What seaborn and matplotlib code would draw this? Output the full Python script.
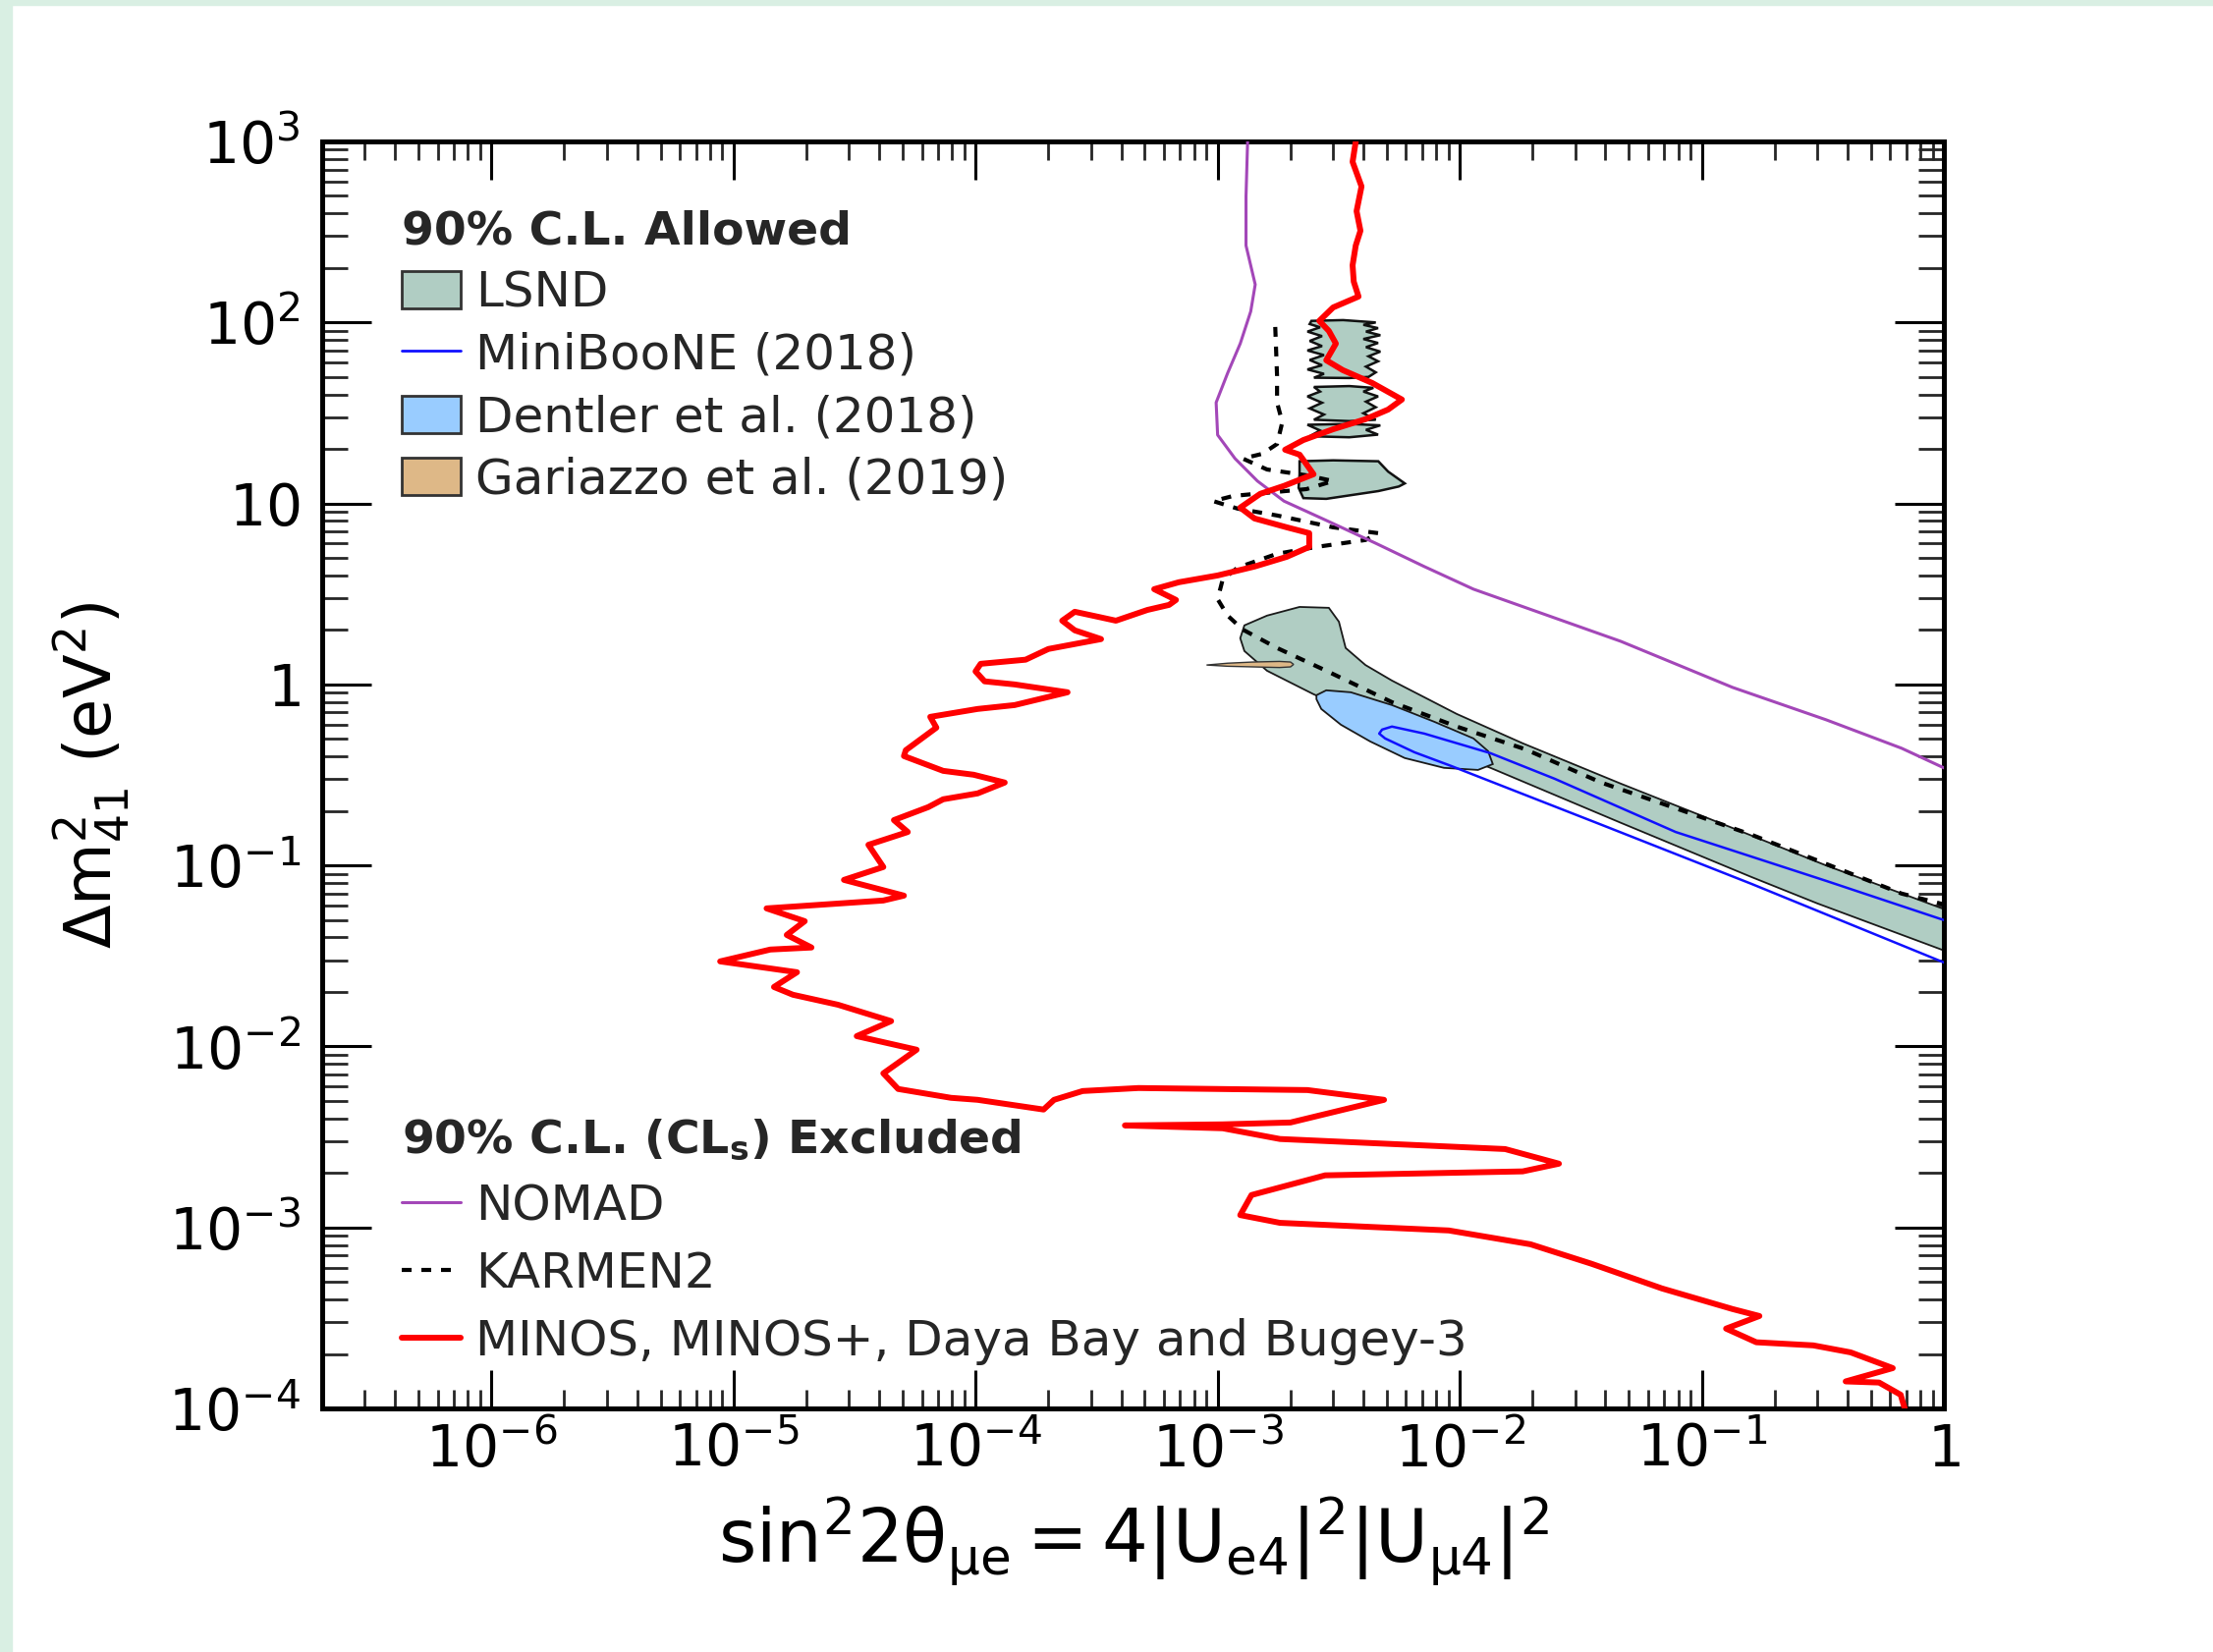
import numpy as np
import matplotlib
matplotlib.use("Agg")
import matplotlib.pyplot as plt
from matplotlib.patches import Patch, Rectangle
from matplotlib.lines import Line2D
from matplotlib.ticker import FixedLocator, FixedFormatter, LogLocator, NullFormatter
import seaborn as sns

# ---------------- data (sin^2 2theta, Delta m^2 [eV^2]) ----------------
minos_sin2 = [3.72e-3, 3.61e-3, 3.93e-3, 3.75e-3, 3.89e-3, 3.72e-3, 3.61e-3, 3.65e-3, 3.82e-3, 3.00e-3,
              2.63e-3, 2.88e-3, 3.08e-3, 2.81e-3, 3.29e-3, 4.35e-3, 5.77e-3, 5.06e-3, 4.08e-3, 3.00e-3,
              2.26e-3, 1.90e-3, 2.18e-3, 2.49e-3, 1.88e-3, 1.50e-3, 1.24e-3, 1.42e-3, 1.93e-3, 2.39e-3,
              2.39e-3, 1.93e-3, 1.42e-3, 1.00e-3, 6.92e-4, 5.47e-4, 6.73e-4, 6.30e-4, 5.13e-4, 3.80e-4,
              3.18e-4, 2.57e-4, 2.28e-4, 2.57e-4, 3.30e-4, 2.00e-4, 1.61e-4, 1.05e-4, 1.00e-4, 1.09e-4,
              1.45e-4, 2.40e-4, 1.45e-4, 1.02e-4, 6.50e-5, 6.89e-5, 5.15e-5, 5.06e-5, 7.35e-5, 9.82e-5,
              1.32e-4, 1.02e-4, 7.35e-5, 6.38e-5, 4.60e-5, 5.25e-5, 3.61e-5, 4.16e-5, 2.86e-5, 5.06e-5,
              4.16e-5, 1.37e-5, 1.97e-5, 1.66e-5, 2.10e-5, 1.42e-5, 8.81e-6, 1.83e-5, 1.47e-5, 1.76e-5,
              2.70e-5, 4.48e-5, 3.23e-5, 5.71e-5, 4.16e-5, 4.79e-5, 7.92e-5, 1.02e-4, 1.91e-4, 2.11e-4,
              2.77e-4, 4.71e-4, 2.35e-3, 4.87e-3, 2.00e-3, 1.05e-3, 4.14e-4, 1.05e-3, 1.81e-3, 1.54e-2,
              2.57e-2, 1.82e-2, 2.78e-3, 1.38e-3, 1.24e-3, 1.81e-3, 9.02e-3, 1.96e-2, 3.50e-2, 6.85e-2,
              0.134, 0.173, 0.126, 0.168, 0.289, 0.412, 0.615, 0.393, 0.540, 0.663, 0.689]
minos_dm2 = [1000, 771, 564, 412, 321, 266, 207, 168, 139, 121,
             102, 89.8, 76.4, 61.8, 54.5, 46.3, 37.5, 33.0, 29.2, 25.7,
             22.4, 19.8, 18.6, 14.5, 12.5, 11.3, 9.48, 8.26, 7.38, 6.85,
             5.75, 5.07, 4.48, 4.00, 3.67, 3.36, 2.93, 2.75, 2.58, 2.25,
             2.37, 2.52, 2.25, 1.99, 1.78, 1.57, 1.37, 1.30, 1.18, 1.04,
             1.00, 0.905, 0.769, 0.732, 0.662, 0.577, 0.433, 0.402, 0.333, 0.317,
             0.287, 0.250, 0.232, 0.210, 0.178, 0.153, 0.130, 0.098, 0.0832, 0.0681,
             0.0640, 0.0579, 0.0492, 0.0413, 0.0352, 0.0343, 0.0295, 0.0257, 0.0213, 0.0193,
             0.0170, 0.0138, 0.0114, 9.59e-3, 7.10e-3, 5.82e-3, 5.20e-3, 5.07e-3, 4.48e-3, 5.07e-3,
             5.67e-3, 5.89e-3, 5.74e-3, 5.07e-3, 3.80e-3, 3.71e-3, 3.66e-3, 3.53e-3, 3.08e-3, 2.71e-3,
             2.25e-3, 2.04e-3, 1.94e-3, 1.51e-3, 1.17e-3, 1.06e-3, 9.62e-4, 8.07e-4, 6.30e-4, 4.60e-4,
             3.54e-4, 3.24e-4, 2.76e-4, 2.32e-4, 2.23e-4, 2.04e-4, 1.67e-4, 1.41e-4, 1.39e-4, 1.19e-4, 1.00e-4]

nomad_sin2 = [1.33e-3, 1.31e-3, 1.31e-3, 1.43e-3, 1.37e-3, 1.24e-3, 1.10e-3, 9.86e-4, 1.00e-3, 1.18e-3,
              1.46e-3, 1.88e-3, 2.81e-3, 4.48e-3, 7.14e-3, 1.14e-2, 4.63e-2, 0.134, 0.326, 0.669, 1.0]
nomad_dm2 = [1000, 497, 266, 162, 115, 76.4, 52.5, 36.1, 23.9, 17.7,
             13.3, 10.3, 8.06, 6.04, 4.48, 3.36, 1.73, 0.963, 0.638, 0.444, 0.346]

karmen_sin2 = [1.73e-3, 1.76e-3, 1.76e-3, 1.85e-3, 1.76e-3, 1.53e-3, 1.27e-3, 1.60e-3, 2.33e-3, 3.00e-3,
               2.33e-3, 1.16e-3, 9.59e-4, 1.21e-3, 1.76e-3, 3.00e-3, 4.61e-3, 4.08e-3, 2.56e-3, 1.76e-3,
               1.21e-3, 1.05e-3, 1.00e-3, 1.10e-3, 1.27e-3, 1.76e-3, 2.81e-3, 5.25e-3, 9.72e-3, 1.87e-2,
               3.84e-2, 7.80e-2, 0.160, 0.326, 0.669, 1.0]
karmen_dm2 = [94.4, 50.6, 36.1, 28.1, 21.3, 18.8, 17.7, 15.4, 14.3, 13.3,
              12.0, 11.0, 10.3, 9.36, 8.58, 7.38, 6.85, 6.28, 5.75, 5.27,
              4.42, 3.81, 2.96, 2.40, 2.01, 1.59, 1.19, 0.798, 0.585, 0.438,
              0.287, 0.207, 0.148, 0.102, 0.0699, 0.0609]

miniboone_sin2 = [1.0, 0.326, 7.80e-2, 2.47e-2, 1.34e-2, 7.14e-3, 5.25e-3, 4.78e-3, 4.65e-3, 4.92e-3,
                  6.50e-3, 9.19e-3, 3.84e-2, 0.160, 1.0]
miniboone_dm2 = [0.0499, 0.0822, 0.153, 0.301, 0.417, 0.535, 0.585, 0.563, 0.535, 0.503,
                 0.422, 0.355, 0.168, 0.0792, 0.0291]

lsnd_band_sin2 = [1.24e-3, 1.29e-3, 1.60e-3, 2.18e-3, 2.88e-3, 3.17e-3, 3.38e-3, 4.08e-3, 5.25e-3, 9.72e-3,
                  1.82e-2, 4.63e-2, 0.134, 0.326, 1.0,
                  1.0, 0.300, 0.160, 4.63e-2, 1.34e-2, 5.25e-3, 2.49e-3, 1.60e-3, 1.29e-3]
lsnd_band_dm2 = [1.80, 2.12, 2.40, 2.68, 2.65, 2.22, 1.59, 1.28, 1.05, 0.687,
                 0.473, 0.283, 0.161, 0.100, 0.0574,
                 0.0339, 0.0617, 0.0864, 0.172, 0.346, 0.570, 0.883, 1.19, 1.53]

lsnd_isl1_sin2 = [2.18e-3, 3.0e-3, 4.61e-3, 5.06e-3, 5.93e-3, 5.6e-3, 4.61e-3, 2.81e-3, 2.26e-3, 2.16e-3, 2.18e-3]
lsnd_isl1_dm2 = [17.1, 17.3, 17.1, 15.0, 12.9, 12.4, 11.7, 10.6, 10.7, 12.2, 14.5]

lsnd_isl2_sin2 = [2.44e-3, 3.3e-3, 4.5e-3, 4.0e-3, 4.6e-3, 4.1e-3, 4.7e-3, 4.0e-3, 4.6e-3, 4.1e-3, 4.7e-3,
                  4.2e-3, 4.6e-3, 4.1e-3, 4.5e-3, 4.2e-3, 3.5e-3, 2.5e-3, 2.75e-3, 2.35e-3, 2.7e-3,
                  2.4e-3, 2.75e-3, 2.35e-3, 2.7e-3, 2.4e-3, 2.7e-3, 2.35e-3, 2.65e-3, 2.4e-3]
lsnd_isl2_dm2 = [102, 103, 100, 97, 93, 89, 85, 81, 77, 73, 69,
                 65, 61, 57, 53, 50, 49.3, 49.5, 52, 55, 58,
                 62, 66, 70, 74, 79, 84, 89, 94, 98]

lsnd_isl3_sin2 = [2.5e-3, 3.5e-3, 4.4e-3, 4.0e-3, 4.6e-3, 4.1e-3, 4.5e-3, 4.0e-3, 4.5e-3, 3.5e-3,
                  2.5e-3, 2.75e-3, 2.4e-3, 2.7e-3, 2.35e-3, 2.65e-3]
lsnd_isl3_dm2 = [44, 44.5, 43.5, 41.5, 39, 36.5, 34, 31.5, 29, 28.5,
                 29, 31, 33.5, 36, 39, 41.5]

lsnd_isl4_sin2 = [2.35e-3, 3.5e-3, 4.7e-3, 4.1e-3, 4.6e-3, 3.5e-3, 2.4e-3, 2.65e-3]
lsnd_isl4_dm2 = [27.2, 27.5, 27.0, 25.5, 24.0, 23.2, 23.5, 25.3]

dentler_sin2 = [2.56e-3, 2.81e-3, 3.55e-3, 5.25e-3, 7.85e-3, 1.14e-2, 1.31e-2, 1.37e-2, 1.19e-2, 8.61e-3,
                5.93e-3, 4.27e-3, 3.23e-3, 2.68e-3, 2.56e-3]
dentler_dm2 = [0.872, 0.928, 0.905, 0.769, 0.622, 0.503, 0.428, 0.363, 0.337, 0.346,
               0.392, 0.484, 0.599, 0.732, 0.829]

gariazzo_sin2 = [9.0e-4, 1.1e-3, 1.4e-3, 1.8e-3, 2.0e-3, 2.06e-3, 2.0e-3, 1.8e-3, 1.4e-3, 1.1e-3]
gariazzo_dm2 = [1.28, 1.31, 1.33, 1.34, 1.33, 1.29, 1.25, 1.24, 1.25, 1.26]

x_ticks = [1e-6, 1e-5, 1e-4, 1e-3, 1e-2, 1e-1, 1]
x_tick_labels = [r"$10^{-6}$", r"$10^{-5}$", r"$10^{-4}$", r"$10^{-3}$", r"$10^{-2}$", r"$10^{-1}$", r"$1$"]
y_ticks = [1e-4, 1e-3, 1e-2, 1e-1, 1, 10, 100, 1000]
y_tick_labels = [r"$10^{-4}$", r"$10^{-3}$", r"$10^{-2}$", r"$10^{-1}$", r"$1$", r"$10$", r"$10^{2}$", r"$10^{3}$"]

allowed_labels = ["LSND", "MiniBooNE (2018)", "Dentler et al. (2018)", "Gariazzo et al. (2019)"]
excluded_labels = ["NOMAD", "KARMEN2", "MINOS, MINOS+, Daya Bay and Bugey-3"]

# ---------------- style ----------------
LSND_C = "#b0cdc3"
DENT_C = "#99ccff"
GAR_C = "#deb887"
MB_C = "#1010ff"
NOMAD_C = "#a347b8"
MINOS_C = "#ff0000"
MINT = "#d9efe3"

sns.set_theme(style="ticks")
plt.rcParams["font.family"] = ["DejaVu Sans"]
plt.rcParams["mathtext.fontset"] = "dejavusans"
plt.rcParams["mathtext.default"] = "regular"

W, H = 2253, 1682
fig = plt.figure(figsize=(W / 100, H / 100), dpi=100, facecolor="white")
fig.patches.append(Rectangle((0, 0), 12 / W, 1, transform=fig.transFigure, color=MINT, zorder=0))
fig.patches.append(Rectangle((0, 1 - 5 / H), 1, 5 / H, transform=fig.transFigure, color=MINT, zorder=0))

ax = fig.add_axes([328 / W, 1 - 1434 / H, 1651 / W, 1290 / H])
ax.set_xscale("log")
ax.set_yscale("log")
ax.set_xlim(2.0e-7, 1.0)
ax.set_ylim(1e-4, 1e3)
ax.set_facecolor("white")

# allowed regions
ax.fill(lsnd_band_sin2, lsnd_band_dm2, facecolor=LSND_C, edgecolor="#1a1a1a", linewidth=1.3, zorder=2)
for xs, ys in [(lsnd_isl1_sin2, lsnd_isl1_dm2), (lsnd_isl2_sin2, lsnd_isl2_dm2),
               (lsnd_isl3_sin2, lsnd_isl3_dm2), (lsnd_isl4_sin2, lsnd_isl4_dm2)]:
    ax.fill(xs, ys, facecolor=LSND_C, edgecolor="#111111", linewidth=1.8, zorder=2)
ax.fill(dentler_sin2, dentler_dm2, facecolor=DENT_C, edgecolor="#1a1a1a", linewidth=1.3, zorder=3)
ax.fill(gariazzo_sin2, gariazzo_dm2, facecolor=GAR_C, edgecolor="#333333", linewidth=1.0, zorder=3)

sns.lineplot(x=miniboone_sin2, y=miniboone_dm2, sort=False, estimator=None, color=MB_C,
             linewidth=1.8, ax=ax, zorder=4)
sns.lineplot(x=karmen_sin2, y=karmen_dm2, sort=False, estimator=None, color="black",
             linewidth=3.0, linestyle=(0, (2.4, 2.4)), ax=ax, zorder=5)
sns.lineplot(x=nomad_sin2, y=nomad_dm2, sort=False, estimator=None, color=NOMAD_C,
             linewidth=2.2, ax=ax, zorder=5)
sns.lineplot(x=minos_sin2, y=minos_dm2, sort=False, estimator=None, color=MINOS_C,
             linewidth=4.3, ax=ax, zorder=6)

# axes / ticks
ax.xaxis.set_major_locator(FixedLocator(x_ticks))
ax.xaxis.set_major_formatter(FixedFormatter(x_tick_labels))
ax.yaxis.set_major_locator(FixedLocator(y_ticks))
ax.yaxis.set_major_formatter(FixedFormatter(y_tick_labels))
ax.xaxis.set_minor_locator(LogLocator(base=10.0, subs=np.arange(2, 10), numticks=100))
ax.yaxis.set_minor_locator(LogLocator(base=10.0, subs=np.arange(2, 10), numticks=100))
ax.xaxis.set_minor_formatter(NullFormatter())
ax.yaxis.set_minor_formatter(NullFormatter())

ax.tick_params(axis="x", which="major", direction="in", length=28, width=2.2, top=True, bottom=True,
               labelsize=42, pad=10, colors="black")
ax.tick_params(axis="x", which="minor", direction="in", length=14, width=2.0, top=True, bottom=True)
ax.tick_params(axis="y", which="major", direction="in", length=36, width=2.2, left=True, right=True,
               labelsize=42, pad=16, colors="black")
ax.tick_params(axis="y", which="minor", direction="in", length=19, width=2.0, left=True, right=True)
for s in ax.spines.values():
    s.set_linewidth(3.6)
    s.set_color("black")

ax.set_xlabel(r"$sin^{2}2\theta_{\mu e} = 4|U_{e4}|^{2}|U_{\mu 4}|^{2}$", fontsize=53, color="black")
ax.set_ylabel(r"$\Delta m^{2}_{41}$ (eV$^{2}$)", fontsize=47, color="black")
ax.xaxis.set_label_coords(0.5, -0.104)
ax.xaxis.label.set_va("center")
ax.yaxis.set_label_coords(-0.142, 0.5)
ax.yaxis.label.set_va("center")

# legends
allowed_handles = [Patch(facecolor=LSND_C, edgecolor="#333333", linewidth=2.0),
                   Line2D([], [], color=MB_C, linewidth=2.0),
                   Patch(facecolor=DENT_C, edgecolor="#333333", linewidth=2.0),
                   Patch(facecolor=GAR_C, edgecolor="#333333", linewidth=2.0)]
leg1 = ax.legend(allowed_handles, allowed_labels, title="90% C.L. Allowed", loc="upper left",
                 bbox_to_anchor=(0.049, 0.946), frameon=False, fontsize=36,
                 title_fontproperties={"weight": "bold", "size": 34}, alignment="left",
                 handlelength=1.2, handleheight=0.8, handletextpad=0.3, labelspacing=0.31,
                 borderpad=0, borderaxespad=0)
ax.add_artist(leg1)

excluded_handles = [Line2D([], [], color=NOMAD_C, linewidth=2.2),
                    Line2D([], [], color="black", linewidth=3.0, linestyle=(0, (2.4, 2.4))),
                    Line2D([], [], color=MINOS_C, linewidth=4.3)]
leg2 = ax.legend(excluded_handles, excluded_labels, title=r"90% C.L. (CL$_\mathbf{s}$) Excluded",
                 loc="lower left", bbox_to_anchor=(0.049, 0.034), frameon=False, fontsize=36,
                 title_fontproperties={"weight": "bold", "size": 34}, alignment="left",
                 handlelength=1.2, handleheight=0.8, handletextpad=0.3, labelspacing=0.42,
                 borderpad=0, borderaxespad=0)

fig.savefig("out.png", dpi=100, facecolor=fig.get_facecolor())
